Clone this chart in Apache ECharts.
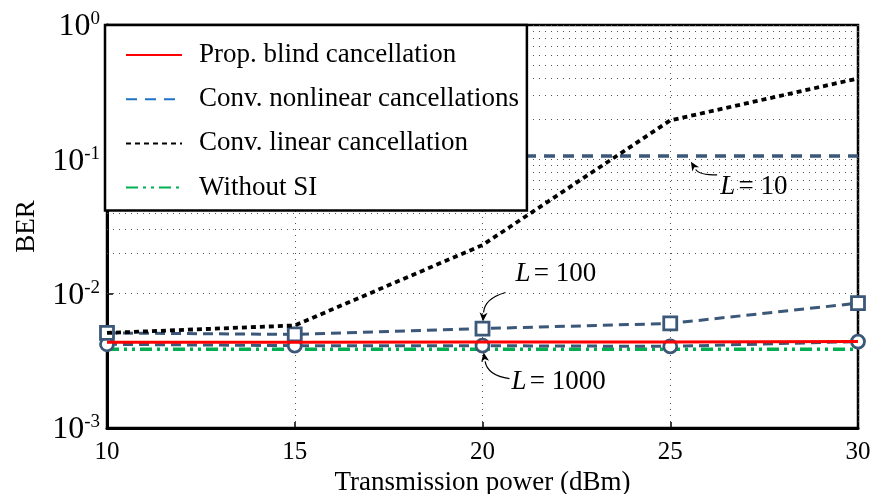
<!DOCTYPE html>
<html>
<head>
<meta charset="utf-8">
<script src="https://cdn.jsdelivr.net/npm/echarts@6/dist/echarts.min.js"></script>
<style>html,body{margin:0;padding:0;background:#fff}#c{width:871px;height:494px}</style>
</head>
<body>
<div id="c"></div>
<script>
const xValues = [10, 15, 20, 25, 30];
const xTicks = [10, 15, 20, 25, 30];
const propBlind = [0.00434, 0.00434, 0.00436, 0.00437, 0.0044];
const convNonlinL10 = [0.106, 0.106, 0.106, 0.106, 0.106];
const convNonlinL100 = [0.0051, 0.00497, 0.0055, 0.006, 0.0085];
const convNonlinL1000 = [0.0042, 0.0041, 0.0041, 0.00405, 0.0044];
const convLinear = [0.0051, 0.0058, 0.023, 0.195, 0.4];
const withoutSI = [0.00386, 0.00386, 0.00386, 0.00386, 0.00386];
const minorGrid = [0.002,0.003,0.004,0.005,0.006,0.007,0.008,0.009,
                   0.02,0.03,0.04,0.05,0.06,0.07,0.08,0.09,
                   0.2,0.3,0.4,0.5,0.6,0.7,0.8,0.9];
const legendNames = ['Prop. blind cancellation', 'Conv. nonlinear cancellations', 'Conv. linear cancellation', 'Without SI'];

const FONT = '"Liberation Serif", "Times New Roman", serif';
const BLUE = '#3b5878';
const pairs = arr => xValues.map((x, i) => [x, arr[i]]);
const noSymbol = { color: 'rgba(0,0,0,0)', borderColor: 'rgba(0,0,0,0)', borderWidth: 0 };

const chart = echarts.init(document.getElementById('c'));
const option = {
  animation: false,
  backgroundColor: '#fff',
  grid: { left: 107, right: 13, top: 25, bottom: 66, outerBoundsMode: 'none', containLabel: false,
    show: true, borderColor: '#000', borderWidth: 2.5, backgroundColor: 'transparent' },
  xAxis: {
    type: 'value', min: 10, max: 30, interval: 5,
    name: 'Transmission power (dBm)', nameLocation: 'middle', nameGap: 36,
    nameTextStyle: { fontFamily: FONT, fontSize: 27, color: '#000' },
    axisLine: { lineStyle: { color: '#000', width: 3 } },
    axisTick: { inside: true, length: 6, lineStyle: { color: '#000', width: 1.5 } },
    axisLabel: { fontFamily: FONT, fontSize: 25, color: '#000', margin: 12,
      formatter: v => (xTicks.indexOf(v) >= 0 ? String(v) : '') },
    splitLine: { show: true, lineStyle: { color: '#555', width: 1, type: [1, 5] } }
  },
  yAxis: {
    type: 'log', logBase: 10, min: 0.001, max: 1,
    name: 'BER', nameLocation: 'middle', nameGap: 67,
    nameTextStyle: { fontFamily: FONT, fontSize: 27, color: '#000' },
    axisLine: { lineStyle: { color: '#000', width: 3 } },
    axisTick: { inside: true, length: 6, lineStyle: { color: '#000', width: 1.5 } },
    axisLabel: {
      margin: 7, color: '#000',
      formatter: v => { const e = Math.round(Math.log10(v)); return '{b|10}{s|' + e + '}'; },
      rich: {
        b: { fontFamily: FONT, fontSize: 32, color: '#000', lineHeight: 36, verticalAlign: 'bottom', padding: [0, 0, 0, 0] },
        s: { fontFamily: FONT, fontSize: 19, color: '#000', verticalAlign: 'top', lineHeight: 36, padding: [3, 0, 11, 0] }
      }
    },
    splitLine: { show: true, lineStyle: { color: '#555', width: 1, type: [1, 5] } }
  },
  legend: {
    orient: 'vertical', left: 105, top: 25,
    backgroundColor: '#fff', borderColor: '#000', borderWidth: 2.5,
    padding: [16, 8, 9, 20],
    itemWidth: 56, itemHeight: 14, itemGap: 16.2,
    textStyle: { fontFamily: FONT, fontSize: 27, color: '#000', lineHeight: 28, padding: [0, 0, 0, 12] },
    itemStyle: noSymbol,
    data: [
      { name: legendNames[0], itemStyle: noSymbol },
      { name: legendNames[1], itemStyle: noSymbol, lineStyle: { color: '#1f73c4' } },
      { name: legendNames[2], itemStyle: noSymbol },
      { name: legendNames[3], itemStyle: noSymbol }
    ],
    z: 10
  },
  series: [
    {
      name: 'grid-minor', type: 'line', data: [], silent: true, z: 1,
      markLine: {
        silent: true, symbol: 'none', label: { show: false }, animation: false,
        lineStyle: { color: '#555', width: 1, type: [1, 5] },
        data: minorGrid.map(v => ({ yAxis: v }))
      }
    },
    {
      name: legendNames[3], type: 'line', data: pairs(withoutSI), symbol: 'none', z: 3,
      lineStyle: { color: '#00b050', width: 3.5, type: [12, 5, 3, 5, 3, 5] },
      itemStyle: { color: '#00b050' }
    },
    {
      name: 'L=1000', type: 'line', data: pairs(convNonlinL1000), symbol: 'circle', symbolSize: 13, z: 4,
      lineStyle: { color: BLUE, width: 3, type: [10, 6] },
      itemStyle: { color: '#fff', borderColor: BLUE, borderWidth: 2.8 }
    },
    {
      name: 'L=100', type: 'line', data: pairs(convNonlinL100), symbol: 'rect', symbolSize: 13, z: 4,
      lineStyle: { color: BLUE, width: 3, type: [10, 6] },
      itemStyle: { color: '#fff', borderColor: BLUE, borderWidth: 2.8 }
    },
    {
      name: legendNames[1], type: 'line', data: pairs(convNonlinL10), symbol: 'none', z: 4,
      lineStyle: { color: BLUE, width: 3.5, type: [11, 8] },
      itemStyle: { color: BLUE }
    },
    {
      name: legendNames[2], type: 'line', data: pairs(convLinear), symbol: 'none', z: 5,
      lineStyle: { color: '#000', width: 3.8, type: [5, 4] },
      itemStyle: { color: '#000' }
    },
    {
      name: legendNames[0], type: 'line', data: pairs(propBlind), symbol: 'none', z: 6,
      lineStyle: { color: '#ff0000', width: 3 },
      itemStyle: { color: '#ff0000' }
    }
  ]
};
chart.setOption(option);

// Annotations (arrows + labels), anchored to data points
const annotations = [
  { text: '10', at: [25.45, 0.106], tail: [30, 19], ctrl: [12, 19], label: [33, 31] },
  { text: '100', at: [20, 0.0055], tail: [23, -36], ctrl: [2, -30], label: [33, -55] },
  { text: '1000', at: [20, 0.0041], tail: [27, 33], ctrl: [5, 30], label: [29, 36] }
];
const g = [];
annotations.forEach(a => {
  const p = chart.convertToPixel({ gridIndex: 0 }, a.at);
  const hx = p[0], hy = p[1];
  const tx = hx + a.tail[0], ty = hy + a.tail[1];
  const cx = hx + a.ctrl[0], cy = hy + a.ctrl[1];
  const dx = hx - cx, dy = hy - cy, len = Math.hypot(dx, dy);
  const ux = dx / len, uy = dy / len;
  const back = 7, headLen = 9, headW = 4;
  const ex = hx - ux * back, ey = hy - uy * back;
  const bx = ex - ux * headLen, by = ey - uy * headLen;
  g.push({ type: 'bezierCurve', shape: { x1: tx, y1: ty, x2: bx, y2: by, cpx1: cx, cpy1: cy },
    style: { stroke: '#000', lineWidth: 1.2, fill: null }, z: 20 });
  g.push({ type: 'polygon', shape: { points: [[ex, ey], [bx - uy * headW, by + ux * headW], [bx + ux * 2.5, by + uy * 2.5], [bx + uy * headW, by - ux * headW]] },
    style: { fill: '#000' }, z: 20 });
  g.push({ type: 'text', x: hx + a.label[0], y: hy + a.label[1],
    style: { text: '{i|L} {n|= ' + a.text + '}', verticalAlign: 'middle', align: 'left',
      rich: { i: { fontFamily: FONT, fontStyle: 'italic', fontSize: 27, fill: '#000' },
              n: { fontFamily: FONT, fontSize: 27, fill: '#000' } } }, z: 20 });
});
chart.setOption({ graphic: g });
</script>
</body>
</html>
